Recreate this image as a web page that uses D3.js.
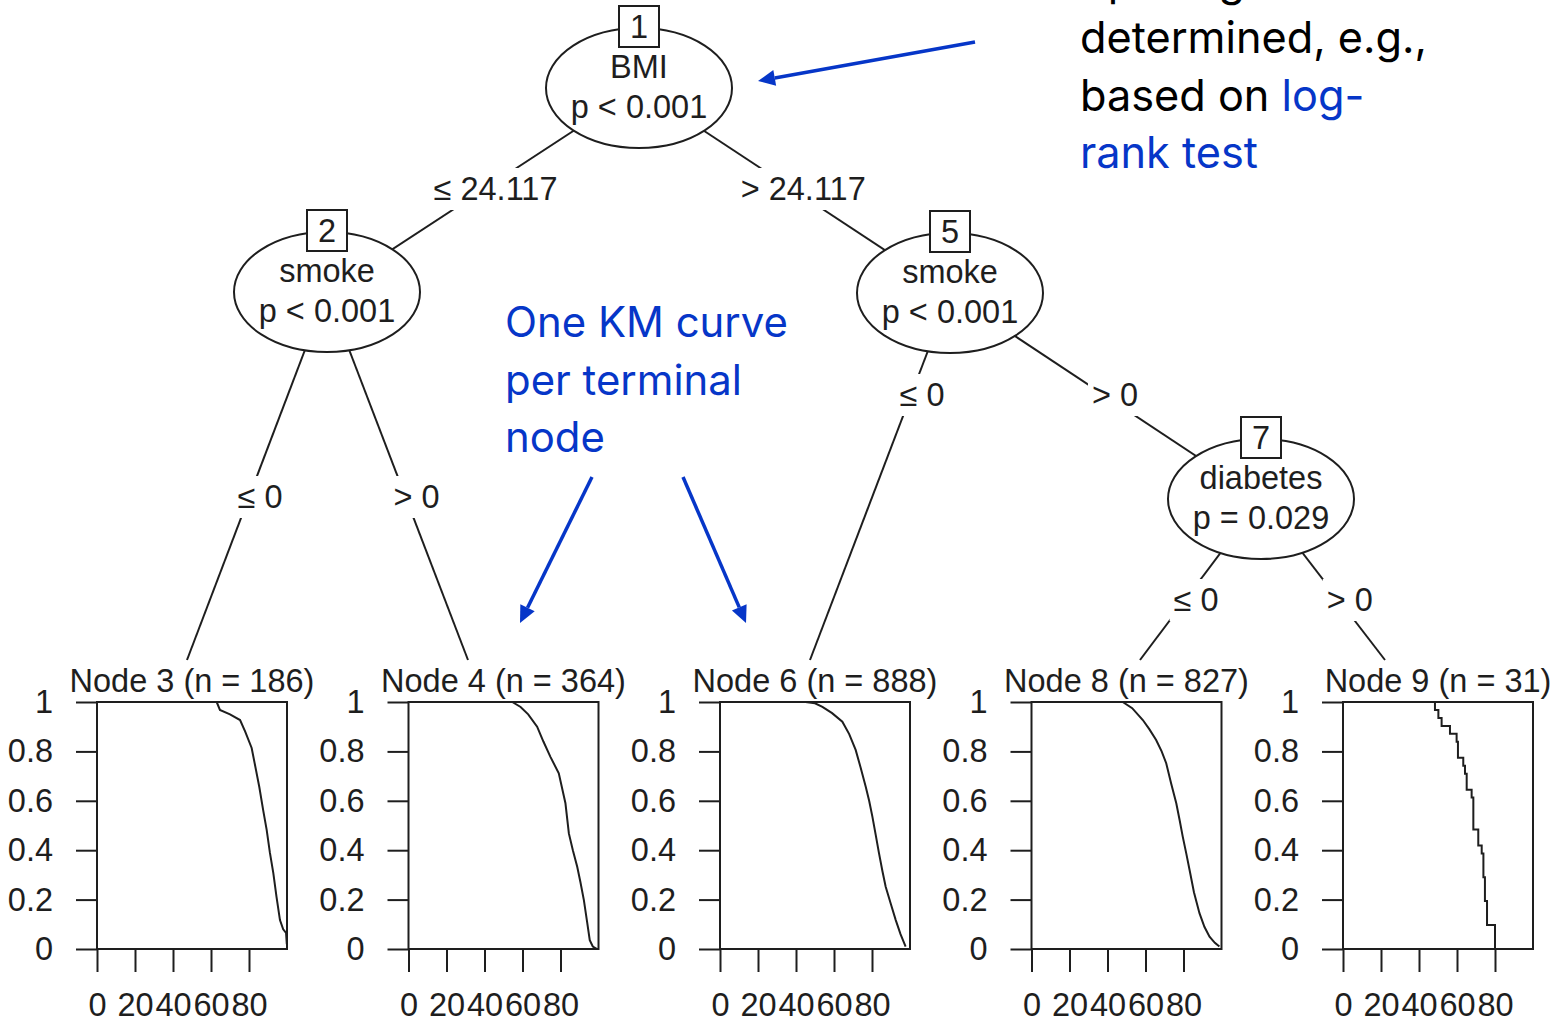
<!DOCTYPE html>
<html><head><meta charset="utf-8">
<script src="https://cdn.jsdelivr.net/npm/d3@7"></script>
<style>body{margin:0;background:#fff}svg{display:block}</style>
</head><body>
<svg id="c" width="1562" height="1030"></svg>
<script>
// ---------------- data ----------------
const innerNodes = [
  {id:1, variable:"BMI",      p:"p < 0.001"},
  {id:2, variable:"smoke",    p:"p < 0.001"},
  {id:5, variable:"smoke",    p:"p < 0.001"},
  {id:7, variable:"diabetes", p:"p = 0.029"}
];
const terminalNodes = [
  {id:3, n:186}, {id:4, n:364}, {id:6, n:888}, {id:8, n:827}, {id:9, n:31}
];
const edges = [
  {from:1, to:2, label:"\u2264 24.117"},
  {from:1, to:5, label:"> 24.117"},
  {from:2, to:3, label:"\u2264 0"},
  {from:2, to:4, label:"> 0"},
  {from:5, to:6, label:"\u2264 0"},
  {from:5, to:7, label:"> 0"},
  {from:7, to:8, label:"\u2264 0"},
  {from:7, to:9, label:"> 0"}
];
// Kaplan-Meier curves: [time, survival]
const km3 = [[0,1],[63,1],[64.7,0.968],[70,0.95],[75.3,0.927],[78,0.88],[81.4,0.814],[85.4,0.657],[87.5,0.56],[89.3,0.482],[91,0.39],[92.8,0.307],[94.5,0.21],[96.3,0.117],[98,0.08],[99.5,0.065],[99.9,0.02]];
const km4 = [[0,1],[54.6,1],[59,0.98],[63,0.95],[67.7,0.90],[71,0.84],[74.7,0.778],[79.1,0.711],[82.6,0.59],[84.4,0.468],[86.5,0.40],[88.8,0.333],[90.5,0.27],[92.3,0.198],[94,0.11],[95.4,0.036],[97,0.01],[99.3,0]];
const km6 = [[0,1],[45,1],[50,0.995],[53.9,0.98],[59,0.955],[64.4,0.92],[68,0.87],[71.4,0.806],[74,0.735],[76.7,0.657],[78.5,0.60],[80.2,0.536],[82,0.46],[83.7,0.387],[85.5,0.315],[87.2,0.252],[90,0.18],[92.5,0.117],[95,0.06],[97.7,0.01]];
const km8 = [[0,1],[48,1],[53,0.975],[58.6,0.927],[62,0.89],[65.6,0.846],[68.5,0.80],[70.9,0.752],[73.5,0.67],[76.2,0.59],[78,0.52],[79.6,0.455],[81.5,0.385],[83.2,0.32],[85.5,0.23],[88.4,0.145],[91,0.09],[93.7,0.05],[96.5,0.025],[98.9,0.01]];
const km9 = [[0,1],[48.4,0.968],[50.2,0.935],[51.9,0.903],[56.3,0.871],[59.8,0.839],[60.5,0.774],[63.3,0.742],[64.2,0.710],[65.1,0.645],[67.7,0.613],[68.6,0.484],[71.2,0.419],[73,0.387],[73.9,0.290],[74.7,0.194],[75.8,0.097],[80,0]];
const kmCurves = {3:km3, 4:km4, 6:km6, 8:km8, 9:km9};
const kmStep = {3:false, 4:false, 6:false, 8:false, 9:true};
const survTicks = [0,0.2,0.4,0.6,0.8,1];
const survTickLabels = ["0","0.2","0.4","0.6","0.8","1"];
const timeTicks = [0,20,40,60,80];
const timeTickLabels = ["0","20","40","60","80"];

// annotation texts
const noteRight = [
  [{t:"Splitting is", blue:false}],
  [{t:"determined, e.g.,", blue:false}],
  [{t:"based on ", blue:false},{t:"log-", blue:true}],
  [{t:"rank test", blue:true}]
];
const noteLeft = ["One KM curve","per terminal","node"];

// ---------------- layout ----------------
const svg = d3.select("#c");
const INK = "#1e1e1e", BLUE = "#0636c8";
const TF = "'Liberation Sans', Arial, Helvetica, sans-serif";
const FS = 32.5;
const innerPos = {1:[639,88], 2:[327,292], 5:[950,293], 7:[1261,499]};
const termAnchorX = {3:187, 4:468, 6:810, 8:1140, 9:1385};
const termAnchorY = 660;
const labelY = {"1-2":189, "1-5":189, "2-3":497, "2-4":497, "5-6":395, "5-7":395, "7-8":600, "7-9":600};
const RX = 93, RY = 60;

const panelLeft = d3.scaleLinear().domain([0,4]).range([97, 1343]);
const panelW = 190, panelTop = 702, panelBottom = 949;

function pos(id){ return innerPos[id] || [termAnchorX[id], termAnchorY]; }

// edges
const gE = svg.append("g");
edges.forEach(e => {
  const [x1,y1] = pos(e.from), [x2,y2] = pos(e.to);
  gE.append("line").attr("x1",x1).attr("y1",y1).attr("x2",x2).attr("y2",y2)
    .attr("stroke",INK).attr("stroke-width",2);
});
// edge labels
const gL = svg.append("g");
edges.forEach(e => {
  const [x1,y1] = pos(e.from), [x2,y2] = pos(e.to);
  const ly = labelY[e.from+"-"+e.to];
  const lx = x1 + (x2-x1)*(ly-y1)/(y2-y1) + 11;
  const t = gL.append("text").attr("x",lx).attr("y",ly+11).attr("text-anchor","middle")
    .attr("font-family",TF).attr("font-size",FS).attr("fill",INK).text(e.label);
  const w = t.node().getComputedTextLength();
  gL.insert("rect","text").attr("x",lx-w/2-4).attr("y",ly-21).attr("width",w+8).attr("height",42).attr("fill","#fff");
});
// inner nodes
const gN = svg.append("g");
innerNodes.forEach(n => {
  const [cx,cy] = innerPos[n.id];
  gN.append("ellipse").attr("cx",cx).attr("cy",cy).attr("rx",RX).attr("ry",RY)
    .attr("fill","#fff").attr("stroke",INK).attr("stroke-width",2);
  gN.append("text").attr("x",cx).attr("y",cy-10).attr("text-anchor","middle")
    .attr("font-family",TF).attr("font-size",FS).attr("fill",INK).text(n.variable);
  gN.append("text").attr("x",cx).attr("y",cy+30).attr("text-anchor","middle")
    .attr("font-family",TF).attr("font-size",FS).attr("fill",INK).text(n.p);
  gN.append("rect").attr("x",cx-20).attr("y",cy-82).attr("width",40).attr("height",41)
    .attr("fill","#fff").attr("stroke",INK).attr("stroke-width",2);
  gN.append("text").attr("x",cx).attr("y",cy-50).attr("text-anchor","middle")
    .attr("font-family",TF).attr("font-size",FS).attr("fill",INK).text(n.id);
});

// terminal KM panels
terminalNodes.forEach((tn,i) => {
  const left = panelLeft(i);
  const g = svg.append("g");
  const x = d3.scaleLinear().domain([0,100]).range([left, left+panelW]);
  const y = d3.scaleLinear().domain([0,1]).range([panelBottom, panelTop]);
  g.append("text").attr("x",left+panelW/2).attr("y",692).attr("text-anchor","middle")
    .attr("font-family",TF).attr("font-size",FS).attr("fill",INK)
    .text(`Node ${tn.id} (n = ${tn.n})`);
  const ya = g.append("g").attr("transform",`translate(${left},0)`)
    .call(d3.axisLeft(y).tickValues(survTicks).tickFormat((d,j)=>survTickLabels[j]).tickSize(21).tickPadding(23));
  const xa = g.append("g").attr("transform",`translate(0,${panelBottom})`)
    .call(d3.axisBottom(x).tickValues(timeTicks).tickFormat((d,j)=>timeTickLabels[j]).tickSize(23).tickPadding(21));
  [ya,xa].forEach(a => {
    a.select(".domain").remove();
    a.selectAll("line").attr("stroke",INK).attr("stroke-width",2);
    a.selectAll("text").attr("font-family",TF).attr("font-size",FS).attr("fill",INK);
  });
  g.append("rect").attr("x",left).attr("y",panelTop).attr("width",panelW).attr("height",panelBottom-panelTop)
    .attr("fill","none").attr("stroke",INK).attr("stroke-width",2);
  const line = d3.line().x(d=>x(d[0])).y(d=>y(d[1]))
    .curve(kmStep[tn.id] ? d3.curveStepAfter : d3.curveLinear);
  g.append("path").attr("d",line(kmCurves[tn.id])).attr("fill","none")
    .attr("stroke",INK).attr("stroke-width",2);
});

// annotations
const AF = "Inter, 'Noto Sans', sans-serif";
function fitSize(str, target){
  const t = svg.append("text").attr("font-family",AF).attr("font-size",100).text(str);
  const w = t.node().getComputedTextLength(); t.remove();
  return 100*target/w;
}
const fsR = fitSize("determined, e.g.,", 347);
const gR = svg.append("g");
noteRight.forEach((ln,i) => {
  const t = gR.append("text").attr("x",1080).attr("y",-4.5+57.5*i)
    .attr("font-family",AF).attr("font-size",fsR);
  ln.forEach(s => t.append("tspan").attr("fill", s.blue?BLUE:"#000").text(s.t));
});
const fsL = fitSize("One KM curve", 283);
noteLeft.forEach((s,i) => {
  svg.append("text").attr("x",505).attr("y",337+57.5*i).attr("font-family",AF)
    .attr("font-size",fsL).attr("fill",BLUE).text(s);
});
// arrows
const arrows = [[[975,42],[758,81]], [[592,477],[520,623]], [[683,477],[746,623]]];
arrows.forEach(([a,b]) => {
  const ang = Math.atan2(b[1]-a[1], b[0]-a[0]);
  const L = 17, H = 8;
  const bx = b[0]-L*Math.cos(ang), by = b[1]-L*Math.sin(ang);
  svg.append("line").attr("x1",a[0]).attr("y1",a[1]).attr("x2",bx).attr("y2",by)
    .attr("stroke",BLUE).attr("stroke-width",3.5);
  const px = -Math.sin(ang)*H, py = Math.cos(ang)*H;
  svg.append("path").attr("d",`M${b[0]},${b[1]}L${bx+px},${by+py}L${bx-px},${by-py}Z`).attr("fill",BLUE);
});
</script>
</body></html>
